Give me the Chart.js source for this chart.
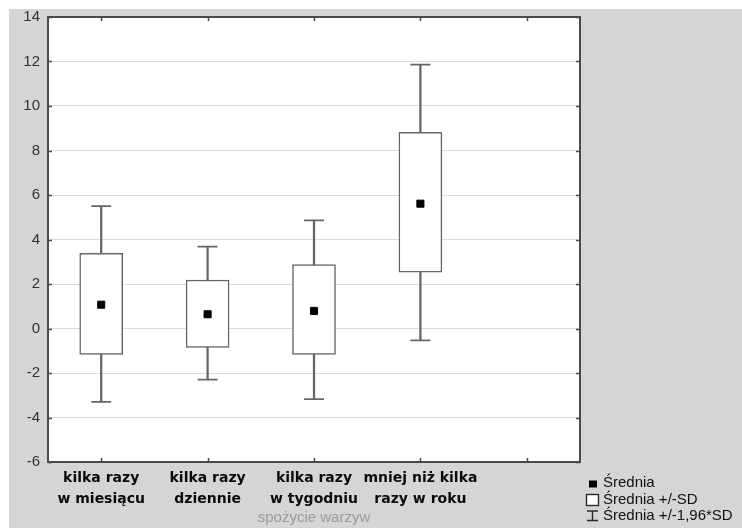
<!DOCTYPE html>
<html>
<head>
<meta charset="utf-8">
<script src="https://cdn.jsdelivr.net/npm/chart.js@4"></script>
<style>
  html, body { margin: 0; padding: 0; background: #ffffff; }
  #wrap { position: relative; width: 742px; height: 529px; }
</style>
</head>
<body>
<div id="wrap"><canvas id="chart" width="742" height="529"></canvas></div>
<script>
// Vegetable consumption groups (last slot is an empty category)
const categories = [
  ["kilka razy", "w miesiącu"],
  ["kilka razy", "dziennie"],
  ["kilka razy", "w tygodniu"],
  ["mniej niż kilka", "razy w roku"],
  ""
];
// Mean per group
const means  = [1.07, 0.64, 0.79, 5.61, null];
// Mean - SD / Mean + SD (box)
const sdLow  = [-1.16, -0.85, -1.16, 2.53, null];
const sdHigh = [3.38, 2.18, 2.87, 8.82, null];
// Mean -/+ 1.96*SD (whiskers)
const ciLow  = [-3.30, -2.30, -3.17, -0.53, null];
const ciHigh = [5.50, 3.68, 4.86, 11.86, null];
// Value axis
const yMin = -6, yMax = 14, yStep = 2;
const axisTitle = "spożycie warzyw";
const legendLabels = ["Średnia", "Średnia +/-SD", "Średnia +/-1,96*SD"];

const FRAME = "#4a4a4a";
const MARK = "#666666";

const backdrop = {
  id: "backdrop",
  beforeDraw(chart) {
    const { ctx, chartArea: a, width, height } = chart;
    ctx.save();
    ctx.fillStyle = "#ffffff";
    ctx.fillRect(0, 0, width, height);
    ctx.fillStyle = "#d5d5d5";
    ctx.fillRect(9, 9, width - 9, height - 10);
    ctx.fillStyle = "#ffffff";
    ctx.fillRect(a.left, a.top, a.right - a.left, a.bottom - a.top);
    ctx.restore();
  }
};

const frame = {
  id: "frame",
  afterDraw(chart) {
    const { ctx, chartArea: a, scales } = chart;
    ctx.save();
    ctx.strokeStyle = FRAME;
    ctx.lineWidth = 2;
    ctx.strokeRect(a.left, a.top, a.right - a.left, a.bottom - a.top);
    // small inward tick marks
    ctx.lineWidth = 1.5;
    ctx.beginPath();
    scales.y.ticks.forEach(t => {
      const y = Math.round(scales.y.getPixelForValue(t.value)) + 0.5;
      ctx.moveTo(a.left, y); ctx.lineTo(a.left + 4, y);
      ctx.moveTo(a.right, y); ctx.lineTo(a.right - 4, y);
    });
    categories.forEach((c, i) => {
      const x = Math.round(scales.x.getPixelForValue(i)) + 0.5;
      ctx.moveTo(x, a.top); ctx.lineTo(x, a.top + 4);
      ctx.moveTo(x, a.bottom); ctx.lineTo(x, a.bottom - 4);
    });
    ctx.stroke();
    ctx.restore();
  }
};

const legendBox = {
  id: "legendBox",
  afterDraw(chart) {
    const { ctx } = chart;
    const textX = 603;
    const baselines = [487, 503.5, 520];
    ctx.save();
    ctx.font = "15px 'Liberation Sans', Arial, sans-serif";
    ctx.fillStyle = "#111111";
    ctx.textBaseline = "alphabetic";
    ctx.textAlign = "left";
    legendLabels.forEach((t, i) => ctx.fillText(t, textX, baselines[i]));
    // mean glyph
    ctx.fillStyle = "#000000";
    ctx.fillRect(589, 480.5, 8, 7);
    // box glyph
    ctx.fillStyle = "#ffffff";
    ctx.fillRect(586.5, 494.5, 12, 11);
    ctx.strokeStyle = "#2a2a2a";
    ctx.lineWidth = 1.4;
    ctx.strokeRect(586.5, 494.5, 12, 11);
    // whisker glyph
    ctx.beginPath();
    ctx.moveTo(587, 511); ctx.lineTo(598, 511);
    ctx.moveTo(592.5, 511); ctx.lineTo(592.5, 520.5);
    ctx.moveTo(587, 520.5); ctx.lineTo(598, 520.5);
    ctx.stroke();
    ctx.restore();
  }
};

new Chart(document.getElementById("chart"), {
  type: "bar",
  data: {
    labels: categories,
    datasets: [
      {
        type: "line",
        label: legendLabels[0],
        data: means,
        showLine: false,
        pointStyle: "rect",
        pointRadius: 5,
        backgroundColor: "#000000",
        borderColor: "#000000",
        borderWidth: 1,
        order: 0
      },
      {
        type: "bar",
        label: legendLabels[1],
        data: sdLow.map((v, i) => v === null ? null : [v, sdHigh[i]]),
        backgroundColor: "#ffffff",
        borderColor: MARK,
        borderWidth: 1.5,
        borderSkipped: false,
        barThickness: 43,
        grouped: false,
        order: 1
      },
      {
        type: "bar",
        label: legendLabels[2],
        data: ciLow.map((v, i) => v === null ? null : [v, ciHigh[i]]),
        backgroundColor: MARK,
        borderWidth: 0,
        barThickness: 1.6,
        grouped: false,
        order: 2
      },
      {
        type: "line",
        label: "cap-high",
        data: ciHigh,
        showLine: false,
        pointStyle: "line",
        pointRadius: 10,
        borderColor: MARK,
        borderWidth: 1.8,
        order: 3
      },
      {
        type: "line",
        label: "cap-low",
        data: ciLow,
        showLine: false,
        pointStyle: "line",
        pointRadius: 10,
        borderColor: MARK,
        borderWidth: 1.8,
        order: 3
      }
    ]
  },
  options: {
    responsive: false,
    animation: false,
    devicePixelRatio: 1,
    layout: { padding: { top: 17, right: 162, bottom: 0, left: 0 } },
    plugins: {
      legend: { display: false },
      tooltip: { enabled: false }
    },
    scales: {
      x: {
        type: "category",
        grid: { display: false, drawTicks: false },
        border: { display: false },
        ticks: {
          autoSkip: false,
          maxRotation: 0,
          padding: 6,
          color: "#0a0a0a",
          font: { family: "'DejaVu Sans', Verdana, sans-serif", size: 14, weight: "bold", lineHeight: "21px" }
        },
        title: {
          display: true,
          text: axisTitle,
          color: "#9a9a9a",
          font: { family: "'Liberation Sans', Arial, sans-serif", size: 15, lineHeight: 1.2 },
          padding: { top: 0, bottom: 2 }
        },
        afterFit(scale) { scale.height = 67; }
      },
      y: {
        min: yMin,
        max: yMax,
        grid: { color: "#dadada", lineWidth: 1, drawTicks: false },
        border: { display: false },
        ticks: {
          stepSize: yStep,
          padding: 8,
          color: "#333333",
          font: { family: "'Liberation Sans', Arial, sans-serif", size: 15 }
        },
        afterFit(scale) { scale.width = 48; }
      }
    }
  },
  plugins: [backdrop, frame, legendBox]
});
</script>
</body>
</html>
